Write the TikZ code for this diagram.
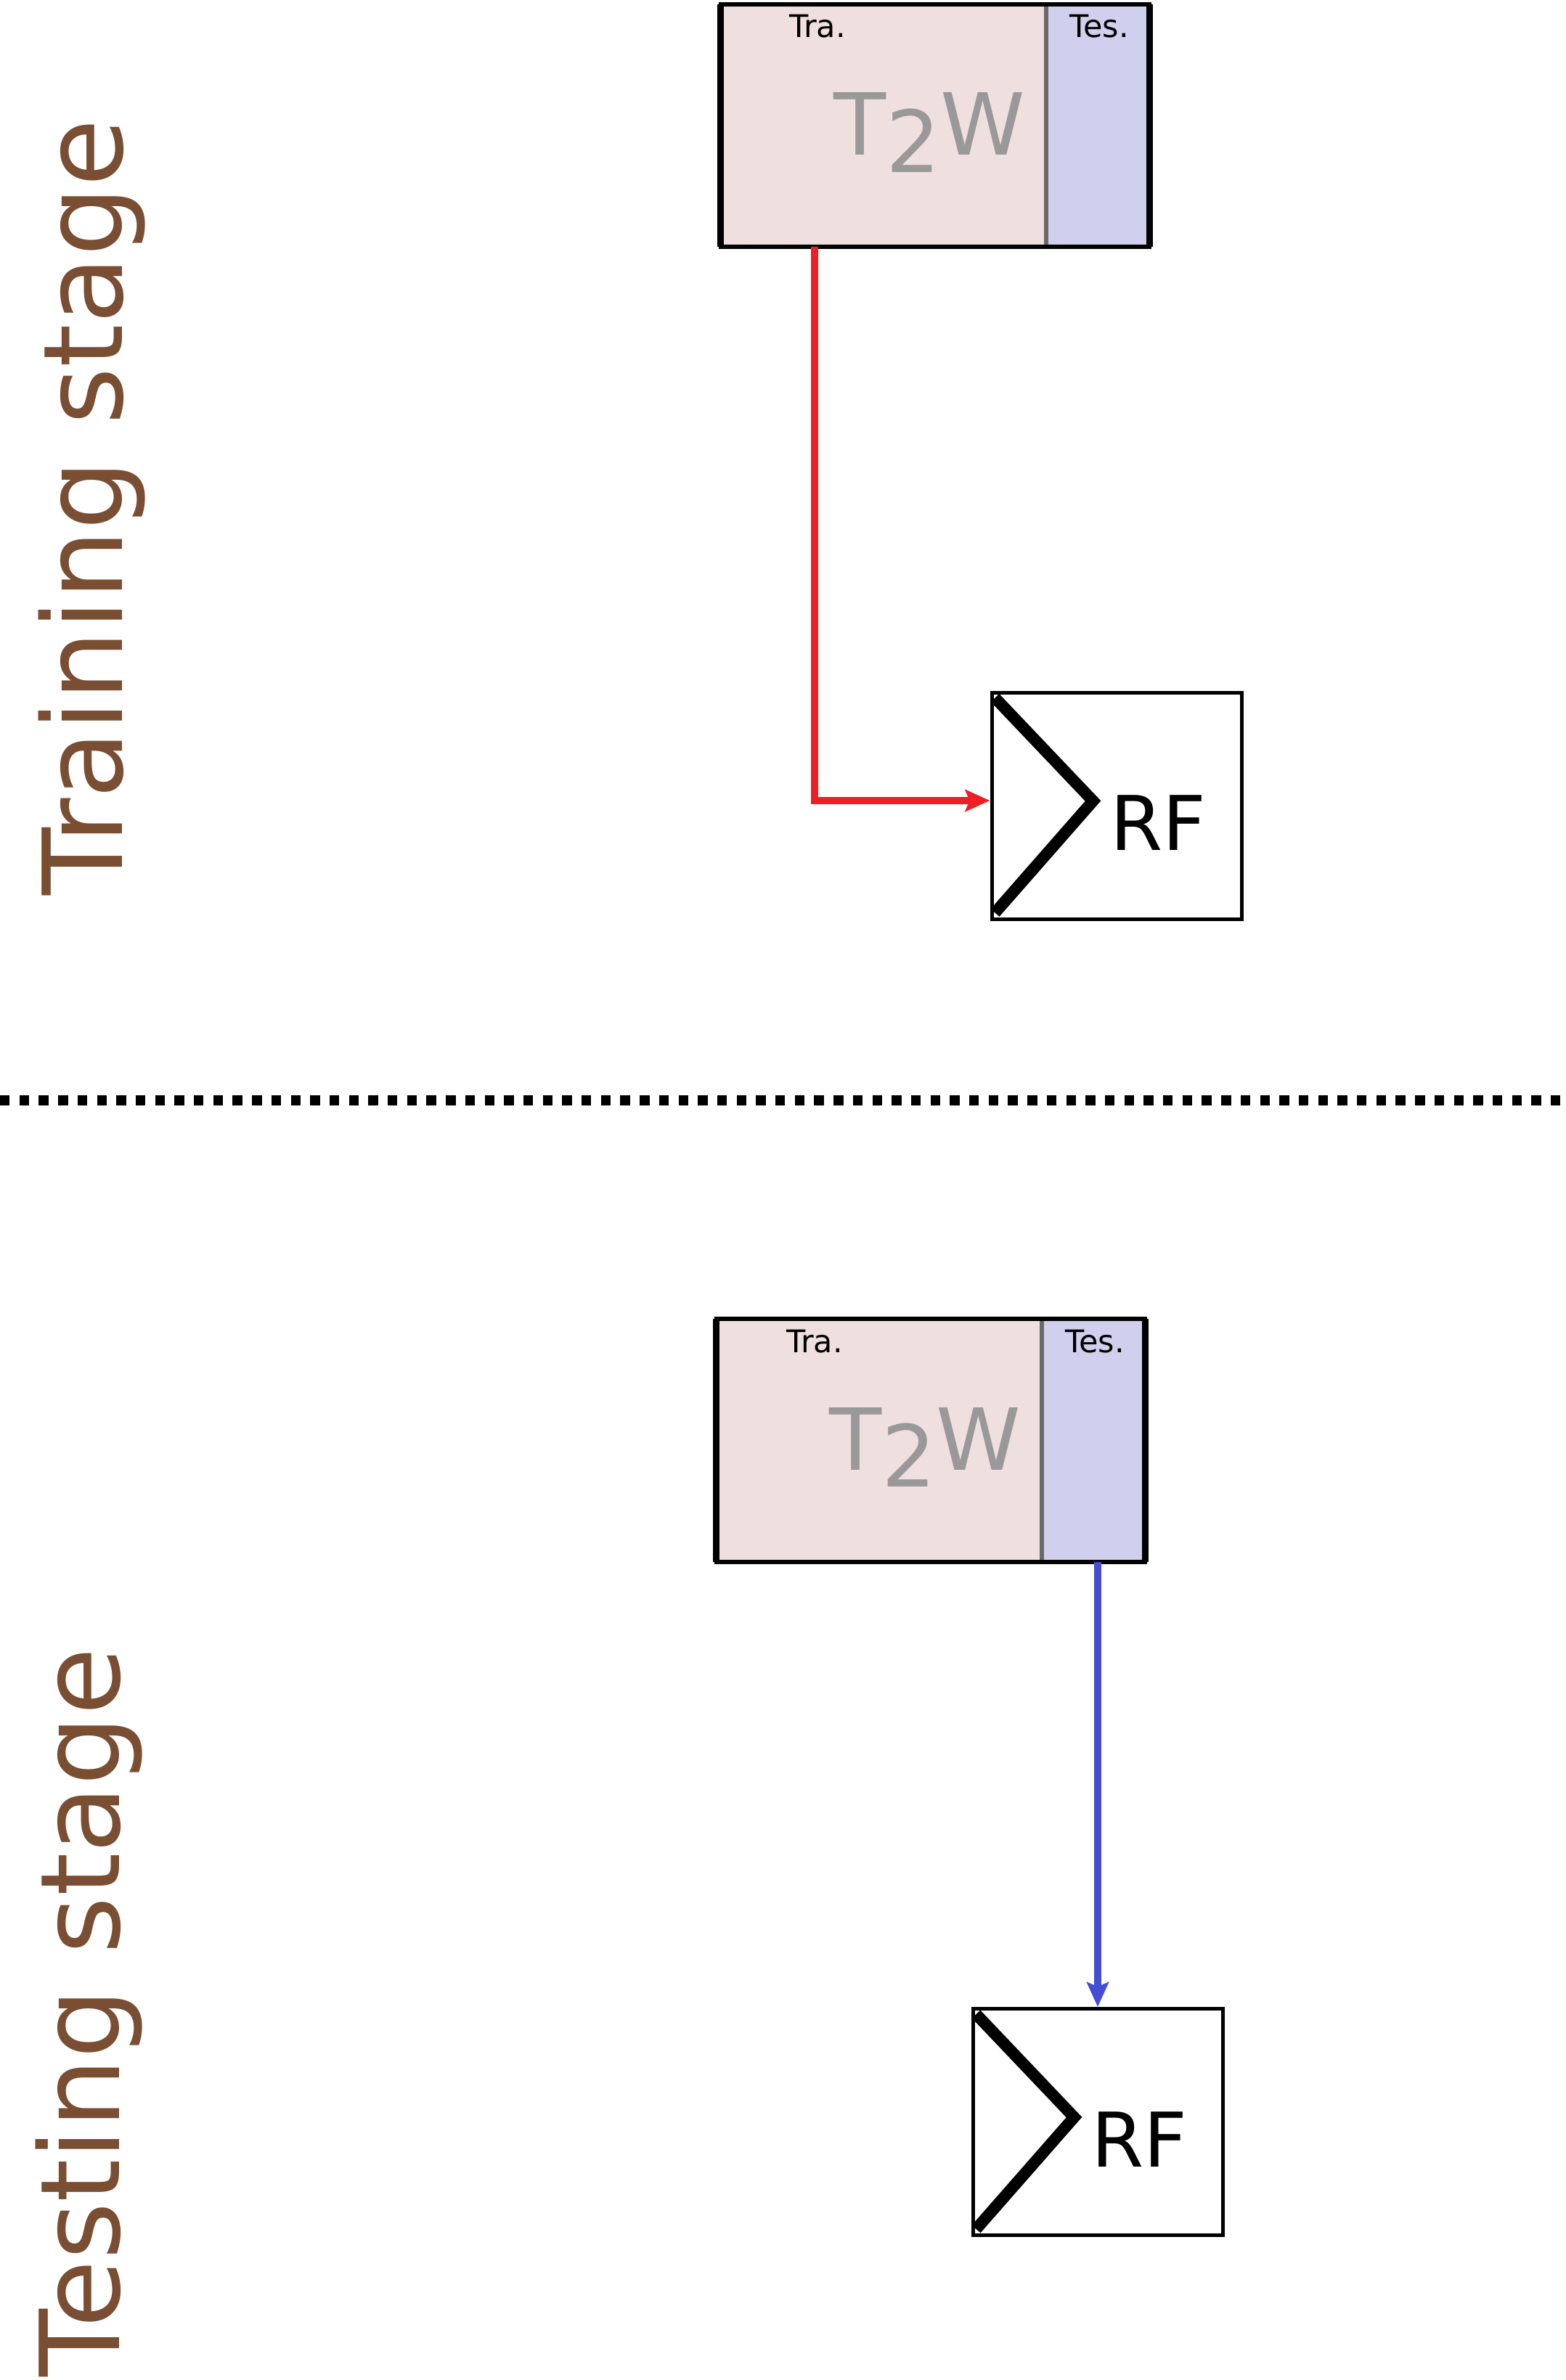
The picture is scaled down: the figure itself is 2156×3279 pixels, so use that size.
\documentclass[tikz,border=0pt]{standalone}
\usepackage{fontspec}
\setmainfont{DejaVu Sans}
\usetikzlibrary{arrows.meta}
\definecolor{pinkfill}{RGB}{239,223,223}
\definecolor{bluefill}{RGB}{208,208,238}
\definecolor{divgray}{RGB}{105,105,105}
\definecolor{wordgray}{RGB}{153,153,153}
\definecolor{stagebrown}{RGB}{121,78,50}
\definecolor{arrowred}{RGB}{236,32,36}
\definecolor{arrowblue}{RGB}{68,78,212}
\tikzset{
  pinkpart/.style={fill=pinkfill, draw=none, inner sep=0, minimum width=224pt, minimum height=167pt},
  bluepart/.style={fill=bluefill, draw=none, inner sep=0, minimum width=71pt, minimum height=167pt},
  hedge/.style={line width=3pt, black, line cap=rect},
  vedge/.style={line width=4.5pt, black},
  divline/.style={line width=3pt, divgray},
  smalllabel/.style={inner sep=0, anchor=base, font=\fontsize{21.5}{26}\selectfont},
  bigword/.style={inner sep=0, anchor=base, text=wordgray, font=\fontsize{59}{70}\selectfont},
  rfbox/.style={draw=black, line width=2.5pt, fill=white, inner sep=0, minimum width=172pt, minimum height=156pt},
  chev/.style={line width=8pt, black, line join=miter},
  rftext/.style={inner sep=0, anchor=base west, font=\fontsize{52}{64}\selectfont},
  stagelabel/.style={inner sep=0, rotate=90, anchor=base west, text=stagebrown, font=\fontsize{76}{90}\selectfont},
  redarrow/.style={line width=5pt, arrowred, -{Stealth[length=17pt,width=15pt,inset=3pt]}},
  bluearrow/.style={line width=5pt, arrowblue, -{Stealth[length=17pt,width=15pt,inset=3pt]}},
  sepline/.style={line width=6.7pt, black, dash pattern=on 6.7pt off 6.65pt}
}
\begin{document}
\begin{tikzpicture}[x=0.5pt,y=-0.5pt]
\useasboundingbox (0,0) rectangle (2156,3279);

% ---------- Training stage ----------
\node[stagelabel] (trainlabel) at (168,1234) {Training stage};

\node[pinkpart] (tw1) at (1217,173) {};
\node[bluepart] (te1) at (1512,173) {};
\draw[divline] (tw1.north east) -- (tw1.south east);
\draw[hedge] (tw1.north west) -- (te1.north east);
\draw[hedge] (tw1.south west) -- (te1.south east);
\draw[vedge] (tw1.north west) -- (tw1.south west);
\draw[vedge] (te1.north east) -- (te1.south east);
\node[smalllabel] (tra1) at (1126,52) {Tra.};
\node[smalllabel] (tes1) at (1514,52) {Tes.};
\node[bigword] (word1) at (1280,214) {T\raisebox{-0.2em}{2}W};

\node[rfbox] (rf1) at (1538,1110) {};
\draw[chev] ([shift={(7,10)}]rf1.north west) -- ([shift={(142,152)}]rf1.north west) -- ([shift={(7,306)}]rf1.north west);
\node[rftext] (rft1) at (1529,1171) {RF};

\coordinate (r1) at (1122,340);
\draw[redarrow] (r1) |- ([yshift=3.5pt]rf1.west);

% ---------- separator ----------
\coordinate (sepL) at (0,1516);
\coordinate (sepR) at (2156,1516);
\draw[sepline] (sepL) -- (sepR);

% ---------- Testing stage ----------
\node[stagelabel] (testlabel) at (164,3275) {Testing stage};

\node[pinkpart] (tw2) at (1211,1984.5) {};
\node[bluepart] (te2) at (1506,1984.5) {};
\draw[divline] (tw2.north east) -- (tw2.south east);
\draw[hedge] (tw2.north west) -- (te2.north east);
\draw[hedge] (tw2.south west) -- (te2.south east);
\draw[vedge] (tw2.north west) -- (tw2.south west);
\draw[vedge] (te2.north east) -- (te2.south east);
\node[smalllabel] (tra2) at (1122,1863) {Tra.};
\node[smalllabel] (tes2) at (1508,1863) {Tes.};
\node[bigword] (word2) at (1274,2025) {T\raisebox{-0.2em}{2}W};

\node[rfbox] (rf2) at (1512,2923.5) {};
\draw[chev] ([shift={(7,10)}]rf2.north west) -- ([shift={(142,152)}]rf2.north west) -- ([shift={(7,306)}]rf2.north west);
\node[rftext] (rft2) at (1503,2985) {RF};

\coordinate (b1) at (1512,2152);
\draw[bluearrow] (b1) -- (rf2.north);
\end{tikzpicture}
\end{document}
